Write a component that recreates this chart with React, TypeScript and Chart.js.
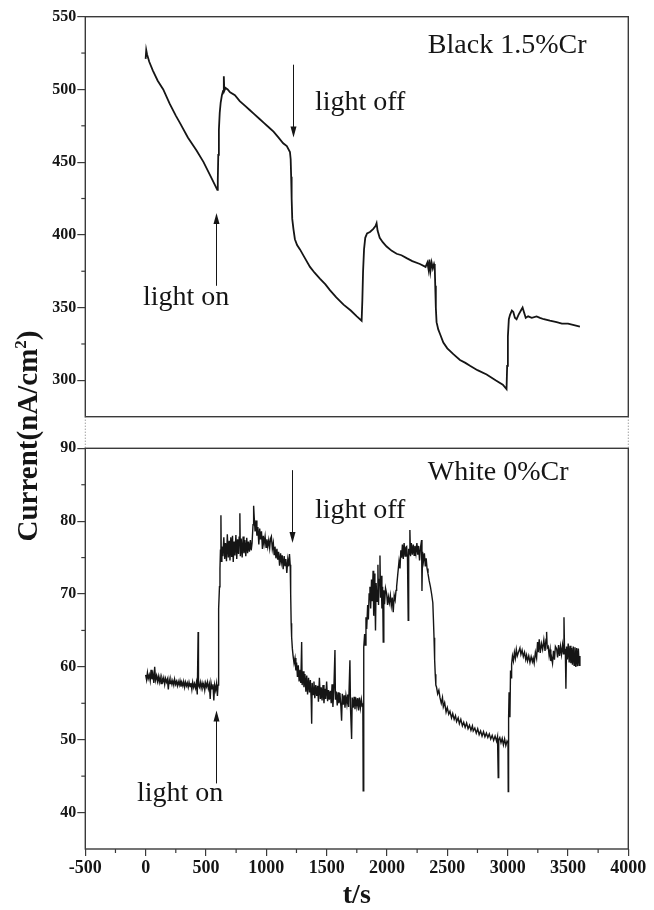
import React, { useEffect, useRef } from 'react';
import { Chart, registerables } from 'chart.js';

Chart.register(...registerables);

// ---- axis ticks ----
const xTickValues = [-500, 0, 500, 1000, 1500, 2000, 2500, 3000, 3500, 4000];
const xMinorValues = [-250, 250, 750, 1250, 1750, 2250, 2750, 3250, 3750];
const topTickValues = [300, 350, 400, 450, 500, 550];
const topMinorValues = [325, 375, 425, 475, 525];
const bottomTickValues = [40, 50, 60, 70, 80, 90];
const bottomMinorValues = [45, 55, 65, 75, 85];

// ---- Black 1.5%Cr : [t (s), current (nA/cm2)] ----
const blackSeries: [number, number][] = [
  [0, 521], [5, 527], [12, 524], [30, 519], [60, 513], [100, 506], [146, 500], [200, 490], [250, 482],
  [284, 477], [350, 467], [422, 458], [480, 450], [540, 440], [594, 431], [598, 438], [602, 455],
  [607, 472], [614, 484], [622, 491], [632, 496], [642, 499], [648, 509], [652, 499], [662, 501],
  [680, 500], [700, 498], [740, 496], [780, 492], [820, 489], [860, 486], [900, 483], [940, 480],
  [980, 477], [1020, 474], [1060, 471], [1100, 467], [1140, 463], [1170, 461], [1196, 457],
  [1202, 452], [1206, 440], [1210, 425], [1215, 411], [1225, 404], [1237, 397], [1255, 393],
  [1279, 390], [1320, 384], [1362, 378], [1400, 374], [1444, 370], [1490, 366], [1527, 362],
  [1580, 357], [1640, 352], [1700, 348], [1750, 344], [1790, 341], [1796, 355], [1802, 375],
  [1810, 390], [1820, 398], [1835, 401], [1859, 402], [1885, 404], [1905, 406], [1914, 408],
  [1922, 403], [1940, 398], [1965, 395], [1997, 392], [2040, 389], [2080, 387], [2120, 386],
  [2163, 384], [2210, 382], [2273, 380], [2320, 378], [2335, 381], [2345, 376], [2352, 383],
  [2360, 375], [2370, 381], [2380, 377], [2390, 380], [2396, 378], [2400, 365], [2405, 350],
  [2411, 340], [2425, 335], [2439, 332], [2467, 326], [2500, 322], [2550, 318], [2605, 314],
  [2650, 312], [2688, 310], [2750, 307], [2826, 304], [2900, 300], [2960, 297], [2991, 294],
  [2996, 310], [3002, 330], [3010, 342], [3020, 345], [3035, 348], [3047, 347], [3060, 343],
  [3074, 342], [3090, 345], [3110, 348], [3124, 350], [3135, 347], [3150, 343], [3170, 344],
  [3200, 343], [3240, 344], [3268, 343], [3300, 342], [3350, 341], [3406, 340], [3450, 339],
  [3500, 339], [3550, 338], [3599, 337],
];

// ---- White 0%Cr : [t (s), current (nA/cm2)] ----
const whiteSeries: [number, number][] = [
  [0, 58.9], [8, 58.2], [15, 59.2], [22, 58.4], [30, 58.9], [38, 58.1], [45, 59.6], [52, 58.3],
  [60, 59.0], [68, 57.8], [75, 60.0], [82, 58.2], [90, 58.8], [98, 58.0], [105, 58.7], [113, 57.9],
  [120, 58.6], [128, 57.7], [135, 58.5], [143, 58.0], [150, 58.5], [158, 57.6], [165, 58.4],
  [173, 57.9], [180, 58.3], [188, 56.9], [195, 58.3], [203, 57.7], [210, 58.2], [218, 57.6],
  [225, 58.1], [233, 57.5], [240, 58.3], [248, 57.6], [255, 58.0], [263, 57.4], [270, 58.0],
  [278, 57.5], [285, 58.1], [293, 57.3], [300, 57.9], [308, 57.4], [315, 58.0], [323, 57.2],
  [330, 57.9], [338, 57.4], [345, 57.8], [353, 57.2], [360, 57.9], [368, 57.3], [375, 57.8],
  [383, 56.9], [390, 57.9], [398, 57.2], [405, 57.7], [413, 57.1], [420, 57.8], [428, 56.2],
  [435, 64.8], [438, 57.5], [445, 57.2], [453, 57.9], [460, 57.1], [468, 57.8], [475, 57.2],
  [483, 57.7], [490, 56.8], [498, 57.8], [505, 57.3], [513, 57.9], [520, 57.0], [528, 57.6],
  [535, 55.6], [542, 57.8], [550, 57.0], [558, 57.6], [565, 55.4], [572, 57.5], [580, 56.8],
  [588, 57.7], [595, 56.0], [600, 57.5],
  [603, 62.0], [607, 68.0], [612, 71.0], [616, 73.5], [620, 76.0], [624, 80.8], [627, 74.5],
  [632, 76.5], [640, 75.2], [648, 77.8], [655, 74.8], [662, 77.0], [670, 74.5], [677, 78.2],
  [685, 75.0], [692, 77.3], [699, 74.6], [706, 77.8], [713, 75.1], [720, 78.0], [726, 74.4],
  [733, 77.2], [740, 75.3], [748, 78.1], [755, 74.8], [762, 77.5], [770, 75.5], [775, 77.8],
  [781, 81.1], [785, 75.2], [792, 77.6], [800, 75.0], [808, 77.9], [815, 75.6], [822, 77.4],
  [830, 75.2], [838, 77.7], [845, 75.6], [852, 77.2], [860, 75.8], [868, 77.4], [875, 76.0],
  [882, 77.0], [890, 79.5], [895, 82.1], [900, 80.5], [907, 78.6], [915, 80.1], [922, 78.0],
  [930, 79.2], [938, 76.8], [945, 79.0], [952, 77.5], [960, 78.6], [968, 76.2], [975, 78.0],
  [982, 76.9], [990, 77.9], [998, 76.4], [1005, 77.5], [1012, 76.5], [1020, 77.4], [1028, 76.3],
  [1035, 77.6], [1042, 77.9], [1050, 76.2], [1058, 77.0], [1065, 75.4], [1072, 76.5], [1080, 74.9],
  [1088, 76.2], [1095, 74.7], [1102, 75.8], [1110, 73.9], [1118, 75.6], [1125, 74.4], [1132, 75.3],
  [1140, 73.4], [1148, 75.2], [1155, 73.9], [1162, 74.8], [1170, 72.9], [1178, 74.7], [1185, 73.8],
  [1192, 75.5], [1198, 74.0],
  [1202, 70.0], [1206, 66.0], [1210, 64.1], [1216, 62.5], [1222, 61.5], [1230, 60.5], [1238, 61.2],
  [1245, 59.5], [1251, 60.6], [1258, 58.6], [1265, 60.2], [1272, 58.0], [1280, 59.6], [1286, 57.8],
  [1293, 63.4], [1297, 57.5], [1305, 59.4], [1312, 57.2], [1320, 59.0], [1328, 56.6], [1335, 58.8],
  [1342, 56.2], [1350, 58.5], [1358, 56.5], [1365, 58.2], [1372, 55.5], [1376, 52.2], [1380, 57.8],
  [1388, 56.2], [1395, 58.0], [1402, 55.7], [1410, 57.5], [1418, 56.0], [1425, 57.4], [1432, 55.2],
  [1440, 58.5], [1448, 55.6], [1455, 57.2], [1462, 55.4], [1470, 57.5], [1478, 55.0], [1485, 57.0],
  [1492, 55.6], [1500, 58.0], [1508, 55.3], [1515, 56.8], [1522, 55.5], [1530, 56.7], [1538, 55.0],
  [1545, 57.6], [1552, 54.5], [1560, 57.0], [1569, 62.3], [1573, 55.5], [1580, 56.6], [1588, 54.7],
  [1595, 56.5], [1602, 55.0], [1610, 56.4], [1618, 54.6], [1624, 52.6], [1630, 56.3], [1638, 54.8],
  [1645, 56.1], [1652, 54.4], [1660, 56.0], [1668, 54.9], [1675, 56.2], [1682, 54.5], [1693, 60.9],
  [1698, 54.3], [1707, 50.1], [1712, 55.8], [1720, 54.4], [1728, 55.9], [1735, 54.2], [1742, 55.8],
  [1750, 54.6], [1758, 55.7], [1765, 54.0], [1772, 55.8], [1780, 54.4], [1788, 55.5], [1795, 54.6],
  [1800, 55.0], [1803, 43.0], [1806, 55.0], [1809, 62.7],
  [1815, 64.5], [1820, 63.0], [1826, 66.8], [1832, 65.2], [1840, 68.5], [1846, 66.5], [1852, 70.0],
  [1859, 71.0], [1865, 68.0], [1872, 72.0], [1878, 69.0], [1885, 73.2], [1890, 67.0], [1895, 72.8],
  [1900, 70.0], [1905, 65.0], [1910, 71.5], [1918, 69.0], [1925, 74.0], [1930, 68.5], [1935, 72.0],
  [1942, 75.3], [1947, 69.5], [1952, 72.5], [1958, 68.0], [1964, 71.0], [1969, 63.4], [1974, 70.5],
  [1980, 68.6], [1988, 70.8], [1997, 70.1], [2005, 68.5], [2012, 69.6], [2020, 68.8], [2028, 69.8],
  [2036, 68.4], [2044, 69.5], [2052, 67.5], [2060, 69.8], [2068, 69.2], [2075, 70.5], [2080, 71.0],
  [2090, 72.8], [2100, 74.5], [2108, 73.5], [2115, 76.0], [2121, 75.0], [2128, 76.8], [2135, 74.8],
  [2142, 77.0], [2150, 75.2], [2157, 76.4], [2163, 76.5], [2170, 75.0], [2176, 66.4], [2180, 76.2],
  [2186, 75.5], [2190, 78.8], [2195, 75.2], [2202, 77.0], [2210, 75.4], [2218, 76.8], [2225, 75.3],
  [2232, 76.6], [2240, 75.6], [2248, 77.0], [2255, 75.4], [2262, 76.6], [2270, 74.6], [2278, 76.4],
  [2287, 77.4], [2290, 70.4], [2295, 75.8], [2302, 74.5], [2310, 75.6], [2318, 73.8], [2325, 74.9],
  [2332, 73.5], [2340, 72.8], [2350, 71.8], [2360, 71.0], [2370, 70.0], [2380, 68.8], [2385, 66.5],
  [2390, 64.0], [2395, 61.0], [2400, 59.0], [2405, 57.5], [2411, 57.2], [2420, 56.3], [2430, 56.8],
  [2439, 55.8], [2450, 55.0], [2460, 55.8], [2467, 54.5], [2478, 55.1], [2490, 53.8], [2500, 54.4],
  [2512, 53.5], [2522, 53.9], [2535, 53.0], [2545, 53.6], [2557, 52.8], [2568, 53.3], [2577, 52.5],
  [2590, 53.0], [2600, 52.2], [2612, 52.8], [2625, 51.9], [2636, 52.4], [2648, 51.7], [2660, 52.3],
  [2672, 51.5], [2684, 52.0], [2696, 51.3], [2708, 51.9], [2715, 51.2], [2728, 51.6], [2740, 50.9],
  [2752, 51.5], [2764, 50.7], [2776, 51.2], [2788, 50.5], [2800, 51.1], [2812, 50.4], [2824, 50.9],
  [2836, 50.3], [2848, 50.8], [2860, 50.1], [2872, 50.6], [2884, 49.9], [2896, 50.5], [2908, 49.8],
  [2916, 50.4], [2922, 44.8], [2926, 50.0], [2935, 50.3], [2945, 49.6], [2955, 50.2], [2965, 49.3],
  [2975, 50.1], [2985, 49.2], [2995, 49.8], [3003, 49.5], [3005, 42.9], [3008, 53.0], [3012, 56.5],
  [3019, 53.1], [3024, 59.5], [3028, 58.5], [3033, 60.4], [3040, 61.5], [3048, 60.8], [3056, 62.0],
  [3064, 61.2], [3072, 62.4], [3080, 61.5], [3090, 62.0], [3102, 62.6], [3110, 61.7], [3120, 62.3],
  [3130, 61.4], [3140, 62.0], [3150, 61.0], [3157, 61.6], [3165, 60.8], [3175, 61.5], [3185, 60.6],
  [3195, 61.4], [3205, 60.7], [3212, 61.2], [3220, 60.5], [3230, 62.0], [3240, 61.2], [3248, 63.4],
  [3254, 62.0], [3262, 63.8], [3270, 61.9], [3280, 63.2], [3290, 62.4], [3300, 63.7], [3310, 62.2],
  [3318, 63.8], [3323, 64.8], [3328, 62.6], [3336, 62.8], [3344, 61.5], [3352, 62.4], [3358, 60.8],
  [3364, 61.3], [3372, 60.5], [3380, 62.2], [3388, 61.0], [3396, 62.8], [3406, 62.5], [3414, 61.3],
  [3422, 63.0], [3430, 61.5], [3438, 62.8], [3446, 61.7], [3455, 63.0], [3462, 61.8], [3467, 66.8],
  [3472, 61.9], [3478, 62.5], [3483, 57.0], [3488, 62.8], [3495, 61.0], [3502, 63.2], [3510, 60.6],
  [3517, 62.9], [3524, 60.5], [3530, 62.6], [3537, 60.3], [3544, 62.8], [3551, 60.2], [3558, 62.7],
  [3565, 60.0], [3572, 62.6], [3579, 60.1], [3586, 62.5], [3593, 60.2], [3599, 61.5],
];

const FONT = '"Liberation Serif", "Times New Roman", serif';
const INK = '#151515';
const FRAME = '#3a3a3a';

function drawArrow(ctx: CanvasRenderingContext2D, x: number, yTail: number, yTip: number) {
  const dir = yTip > yTail ? 1 : -1;
  const headLen = 11;
  ctx.beginPath();
  ctx.moveTo(x, yTail);
  ctx.lineTo(x, yTip - dir * headLen * 0.6);
  ctx.lineWidth = 1;
  ctx.strokeStyle = INK;
  ctx.stroke();
  ctx.beginPath();
  ctx.moveTo(x, yTip);
  ctx.lineTo(x - 3, yTip - dir * headLen);
  ctx.lineTo(x + 3, yTip - dir * headLen);
  ctx.closePath();
  ctx.fillStyle = INK;
  ctx.fill();
}

const decorPlugin = {
  id: 'decor',
  afterDraw(chart: any) {
    const ctx: CanvasRenderingContext2D = chart.ctx;
    const x = chart.scales.x;
    const yT = chart.scales.yTop;
    const yB = chart.scales.yBot;
    const L = x.left;
    const R = x.right;
    ctx.save();

    // panel frames
    ctx.strokeStyle = FRAME;
    ctx.lineWidth = 1.4;
    ctx.strokeRect(L, yT.top, R - L, yT.bottom - yT.top);
    ctx.strokeRect(L, yB.top, R - L, yB.bottom - yB.top);

    // axis break (dotted)
    ctx.lineWidth = 1;
    ctx.setLineDash([1, 2]);
    ctx.strokeStyle = '#777';
    for (const px of [L, R]) {
      ctx.beginPath();
      ctx.moveTo(px, yT.bottom);
      ctx.lineTo(px, yB.top);
      ctx.stroke();
    }
    ctx.setLineDash([]);

    // minor ticks
    ctx.strokeStyle = FRAME;
    ctx.lineWidth = 1.2;
    for (const v of xMinorValues) {
      const px = x.getPixelForValue(v);
      ctx.beginPath();
      ctx.moveTo(px, yB.bottom);
      ctx.lineTo(px, yB.bottom + 4);
      ctx.stroke();
    }
    for (const v of topMinorValues) {
      const py = yT.getPixelForValue(v);
      ctx.beginPath();
      ctx.moveTo(L - 4, py);
      ctx.lineTo(L, py);
      ctx.stroke();
    }
    for (const v of bottomMinorValues) {
      const py = yB.getPixelForValue(v);
      ctx.beginPath();
      ctx.moveTo(L - 4, py);
      ctx.lineTo(L, py);
      ctx.stroke();
    }

    // annotations
    ctx.fillStyle = INK;
    ctx.font = `28px ${FONT}`;
    ctx.textAlign = 'left';
    ctx.textBaseline = 'alphabetic';
    ctx.fillText('Black 1.5%Cr', x.getPixelForValue(2339), yT.getPixelForValue(525));
    ctx.fillText('light off', x.getPixelForValue(1403), yT.getPixelForValue(485.8));
    ctx.fillText('light on', x.getPixelForValue(-22), yT.getPixelForValue(351.8));
    ctx.fillText('White 0%Cr', x.getPixelForValue(2339), yB.getPixelForValue(85.64));
    ctx.fillText('light off', x.getPixelForValue(1403), yB.getPixelForValue(80.4));
    ctx.fillText('light on', x.getPixelForValue(-72), yB.getPixelForValue(41.6));

    drawArrow(ctx, Math.round(x.getPixelForValue(1220)) + 0.5, yT.getPixelForValue(517), yT.getPixelForValue(467));
    drawArrow(ctx, Math.round(x.getPixelForValue(583)) + 0.5, yT.getPixelForValue(365), yT.getPixelForValue(415));
    drawArrow(ctx, Math.round(x.getPixelForValue(1212)) + 0.5, yB.getPixelForValue(87), yB.getPixelForValue(77));
    drawArrow(ctx, Math.round(x.getPixelForValue(583)) + 0.5, yB.getPixelForValue(44), yB.getPixelForValue(54));

    // axis titles
    ctx.fillStyle = INK;
    ctx.font = `bold 28px ${FONT}`;
    ctx.textAlign = 'center';
    ctx.fillText('t/s', (L + R) / 2, 903);

    const main = 'Current(nA/cm';
    const sup = '2';
    const close = ')';
    const bigFont = `bold 29px ${FONT}`;
    const supFont = `bold 17px ${FONT}`;
    ctx.font = bigFont;
    const wMain = ctx.measureText(main).width;
    const wClose = ctx.measureText(close).width;
    ctx.font = supFont;
    const wSup = ctx.measureText(sup).width;
    const total = wMain + wSup + wClose;
    ctx.translate(37, 436);
    ctx.rotate(-Math.PI / 2);
    ctx.textAlign = 'left';
    let cx = -total / 2;
    ctx.font = bigFont;
    ctx.fillText(main, cx, 0);
    cx += wMain;
    ctx.font = supFont;
    ctx.fillText(sup, cx, -11);
    cx += wSup;
    ctx.font = bigFont;
    ctx.fillText(close, cx, 0);

    ctx.restore();
  },
};

const plainLabel = (v: any) => String(v);

export default function App() {
  const ref = useRef<HTMLCanvasElement | null>(null);

  useEffect(() => {
    const canvas = ref.current;
    if (!canvas) return;

    const yAxisFit = (scale: any) => {
      scale.width = 50;
      scale.paddingTop = 0;
      scale.paddingBottom = 0;
    };

    const chart = new Chart(canvas, {
      type: 'line',
      data: {
        datasets: [
          {
            data: blackSeries.map(([t, v]) => ({ x: t, y: v })),
            xAxisID: 'x',
            yAxisID: 'yTop',
            borderColor: INK,
            borderWidth: 1.8,
            pointRadius: 0,
            tension: 0,
            fill: false,
          },
          {
            data: whiteSeries.map(([t, v]) => ({ x: t, y: v })),
            xAxisID: 'x',
            yAxisID: 'yBot',
            borderColor: INK,
            borderWidth: 1.4,
            pointRadius: 0,
            tension: 0,
            fill: false,
          },
        ],
      },
      options: {
        responsive: false,
        animation: false,
        events: [],
        layout: { padding: { left: 35.3, right: 25.7, top: 16.7, bottom: 21 } },
        plugins: { legend: { display: false }, tooltip: { enabled: false } },
        scales: {
          x: {
            type: 'linear',
            position: 'bottom',
            min: -500,
            max: 4000,
            afterBuildTicks: (s: any) => { s.ticks = xTickValues.map((v) => ({ value: v })); },
            afterFit: (s: any) => { s.height = 40; s.paddingLeft = 0; s.paddingRight = 0; },
            ticks: {
              color: INK,
              padding: 2,
              maxRotation: 0,
              autoSkip: false,
              callback: plainLabel,
              font: { family: FONT, size: 18, weight: 'bold' },
            },
            grid: { drawOnChartArea: false, drawTicks: true, tickLength: 7, color: FRAME, lineWidth: 1.2 },
            border: { display: false },
          },
          yBot: {
            type: 'linear',
            position: 'left',
            stack: 'panels',
            stackWeight: 400.7,
            min: 35,
            max: 90,
            afterBuildTicks: (s: any) => { s.ticks = bottomTickValues.map((v) => ({ value: v })); },
            afterFit: yAxisFit,
            ticks: { color: INK, padding: 1, autoSkip: false, callback: plainLabel, font: { family: FONT, size: 16, weight: 'bold' } },
            grid: { drawOnChartArea: false, drawTicks: true, tickLength: 8, color: FRAME, lineWidth: 1.2 },
            border: { display: false },
          },
          yGap: {
            type: 'linear',
            position: 'left',
            stack: 'panels',
            stackWeight: 31.6,
            min: 0,
            max: 1,
            afterFit: yAxisFit,
            ticks: { display: false },
            grid: { display: false },
            border: { display: false },
          },
          yTop: {
            type: 'linear',
            position: 'left',
            stack: 'panels',
            stackWeight: 400,
            min: 275,
            max: 550,
            afterBuildTicks: (s: any) => { s.ticks = topTickValues.map((v) => ({ value: v })); },
            afterFit: yAxisFit,
            ticks: { color: INK, padding: 1, autoSkip: false, callback: plainLabel, font: { family: FONT, size: 16, weight: 'bold' } },
            grid: { drawOnChartArea: false, drawTicks: true, tickLength: 8, color: FRAME, lineWidth: 1.2 },
            border: { display: false },
          },
        },
      } as any,
      plugins: [decorPlugin],
    });

    return () => chart.destroy();
  }, []);

  return (
    <div style={{ position: 'fixed', left: 0, top: 0, width: 654, height: 910, background: '#fff' }}>
      <canvas ref={ref} width={654} height={910} style={{ width: 654, height: 910, display: 'block' }} />
    </div>
  );
}
